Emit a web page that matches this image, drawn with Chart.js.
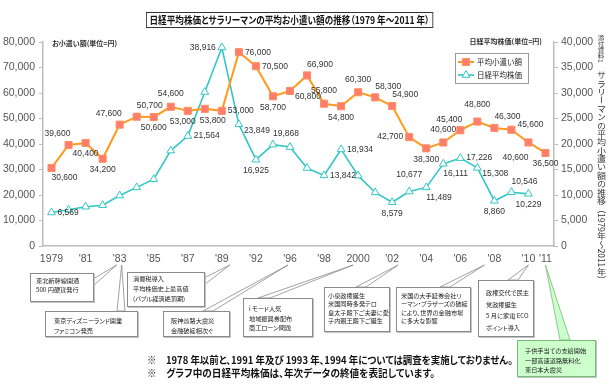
<!DOCTYPE html>
<html lang="ja">
<head>
<meta charset="utf-8">
<title>日経平均株価とサラリーマンの平均お小遣い額の推移</title>
<script src="https://cdn.jsdelivr.net/npm/chart.js@4.4.1/dist/chart.umd.min.js"></script>
<style>
html, body { margin: 0; padding: 0; background: #fff; }
#page { position: relative; width: 612px; height: 385px; overflow: hidden; font-family: "Noto Sans CJK JP", sans-serif; color: #222; }
#chart { position: absolute; left: 0; top: 0; }
.fit { position: absolute; white-space: nowrap; transform-origin: 0 0; font-feature-settings: "palt"; }
#title { left: 146px; top: 12px; height: 16px; line-height: 14px; border: 1px solid #333; box-sizing: border-box; font-size: 10px; font-weight: bold; padding: 0 3px; color: #111; }
.note { left: 147px; font-size: 10px; font-weight: bold; color: #111; line-height: 12px; }
.axis-title { position: absolute; font-size: 7px; font-weight: bold; color: #333; white-space: nowrap; line-height: 10px; font-feature-settings: "palt"; }
.box { position: absolute; box-sizing: border-box; background: #fff; border: 1px solid #8a8a8a; box-shadow: 1px 1px 0 #c4c4c4; font-size: 6.2px; color: #222; white-space: nowrap; font-feature-settings: "palt"; }
.box.green { background: #ccffcc; border-color: #79b979; }
#side { position: absolute; left: 595px; top: 35px; writing-mode: vertical-rl; font-size: 9px; line-height: 12px; color: #333; white-space: nowrap; transform-origin: 0 0; }
#side .small { font-size: 6.5px; }
</style>
</head>
<body>
<div id="page">
  <canvas id="chart" width="612" height="385"></canvas>
  <div id="title" class="fit">日経平均株価とサラリーマンの平均お小遣い額の推移（1979 年～2011 年）</div>
  <div class="axis-title" style="left:52px; top:38px;">お小遣い額(単位=円)</div>
  <div class="axis-title" style="right:70px; top:36px;">日経平均株価(単位=円)</div>
  <div id="side"><span class="small">添付資料1</span>　サラリーマンの平均小遣い額の推移（1979年～2011年）</div>
  <div id="note1" class="fit note" style="top:354px;">※　1978 年以前と、1991 年及び 1993 年、1994 年については調査を実施しておりません。</div>
  <div id="note2" class="fit note" style="top:367px;">※　グラフ中の日経平均株価は、年次データの終値を表記しています。</div>
</div>
<script>
// 調査年（1991, 1993, 1994 は調査なし）
const years = ['1979', '1980', '1981', '1982', '1983', '1984', '1985', '1986', '1987', '1988', '1989', '1990',
    '1992', '1995', '1996', '1997', '1998', '1999', '2000', '2001', '2002', '2003', '2004', '2005',
    '2006', '2007', '2008', '2009', '2010', '2011'];
const tickLabels = ['1979', '', "'81", '', "'83", '', "'85", '', "'87", '', "'89", '', "'92", '', "'96", '',
    "'98", '', '2000', '', "'02", '', "'04", '', "'06", '', "'08", '', "'10", "'11"];

// 平均小遣い額（円）
const allowance = [30600, 39600, 40400, 34200, 47600, 50700, 50600, 54600, 53000, 53800, 53000, 76000,
    70500, 58700, 60800, 66900, 55800, 54800, 60300, 58300, 54900, 42700, 38300, 40600,
    45400, 48800, 46300, 45600, 40600, 36500];
// 日経平均株価（年末終値）
const nikkei = [6569, 7100, 7700, 8000, 9900, 11500, 13100, 18700, 21564, 30200, 38916, 23849,
    16925, 19868, 19400, 15300, 13842, 18934, 13800, 10500, 8579, 10677, 11489, 16111,
    17226, 15308, 8860, 10546, 10229, null];

// ラベルの向き（null は表示なし）
const allowanceLabelPos = ['br', 'tl', 'b', 'b', 'tl', 'tr', 'b', 't', 'bL', 'bR', 'r', 'r',
    'r', 'b', 'rb', 'tr', 't', 'b', 't', 'tr', 'tr', 'l', 'b', 't',
    'tl', 'tt', 'tr', 'rt', 'bl', 'b'];
const nikkeiLabelPos = ['r', null, null, null, null, null, null, null, 'r', null, 'l', 'rb',
    'b', 'tr', null, null, 'r', 'r', null, null, 'b', 'tt', 'br', 'br',
    'r', 'rb', 'b', 'tr', 'b', null];

const placeMap = {
    t: [0, -13, 'center'], tt: [0, -17, 'center'], b: [0, 11, 'center'],
    bL: [-5, 11, 'center'], bR: [8, 12, 'center'],
    r: [6, 0, 'left'], l: [-6, 0, 'right'],
    tr: [0, -11, 'left'], tl: [2, -11, 'right'],
    br: [0, 10, 'left'], bl: [0, 15, 'right'],
    rb: [5, 6, 'left'], rt: [6, -5, 'left']
};

// 出来事の吹き出し
const notes = [
    { box: [30, 273, 64, 29], pad: [5, 1.5], lh: 9, lines: ['東北新幹線開通', '500 円硬貨発行'], tick: 4, dx: -3, base: [93, 279, 93, 286] },
    { box: [45, 311, 93, 26], pad: [8, 4.2], lh: 9.5, lines: ['東京ディズニーランド開業', 'ファミコン発売'], tick: 4, dx: 2, base: [117, 311, 125, 311] },
    { box: [127, 272, 78, 35], pad: [5, 1], lh: 10, lines: ['消費税導入', '平均株価史上最高値', '(バブル経済絶頂期)'], tick: 10, dx: 8, base: [204, 278, 204, 285] },
    { box: [163, 311, 67, 26], pad: [7, 4.2], lh: 9.5, lines: ['阪神淡路大震災', '金融破綻相次ぐ'], tick: 14, dx: -2, base: [203, 311, 213, 311] },
    { box: [243, 298, 70, 39], pad: [5, 5], lh: 9.5, lines: ['i モード人気', '地域振興券配布', '商工ローン問題'], tick: 18, dx: -5, base: [258, 298, 270, 298] },
    { box: [324, 287, 66, 45], pad: [3, 3.7], lh: 8.5, lines: ['小泉政権誕生', '米国同時多発テロ', '皇太子殿下ご夫妻に愛', '子内親王殿下ご誕生'], tick: 20, dx: 6, base: [356, 287, 366, 287] },
    { box: [396, 287, 75, 45], pad: [4, 3.7], lh: 8.5, lines: ['米国の大手証券会社リ', 'ーマン・ブラザーズの破綻', 'により、世界の金融市場', 'に多大な影響'], tick: 26, dx: -10, base: [440, 287, 450, 287] },
    { box: [478, 280, 56, 57], pad: [7, 6], lh: 11.7, lines: ['政権交代で民主', '党政権誕生', '5 月に家電 ECO', 'ポイント導入'], tick: 28, dx: 0, base: [508, 280, 518, 280] },
    { box: [517, 340, 79, 37], pad: [7, 5], lh: 9.5, lines: ['子供手当ての支給開始', '一部高速道路無料化', '東日本大震災'], tick: 29, dx: 0, base: [560, 340, 570, 340], green: true }
];

const page = document.getElementById('page');
notes.forEach(n => {
    const d = document.createElement('div');
    d.className = n.green ? 'box green' : 'box';
    d.style.left = n.box[0] + 'px';
    d.style.top = n.box[1] + 'px';
    d.style.width = n.box[2] + 'px';
    d.style.height = n.box[3] + 'px';
    d.style.padding = n.pad[1] + 'px 0 0 ' + n.pad[0] + 'px';
    d.style.lineHeight = n.lh + 'px';
    d.innerHTML = n.lines.join('<br>');
    page.appendChild(d);
});

const ORANGE = '#ff9a1a';
const CYAN = '#33c6c6';
const numFont = '"Liberation Sans Narrow", "Liberation Sans", Arial, sans-serif';

const calloutPlugin = {
    id: 'callouts',
    afterDraw(chart) {
        const ctx = chart.ctx;
        const xs = chart.scales.x;
        ctx.save();
        ctx.lineWidth = 0.8;
        notes.forEach(n => {
            const tx = xs.getPixelForValue(n.tick) + n.dx;
            const ty = 265;
            ctx.beginPath();
            ctx.moveTo(n.base[0], n.base[1]);
            ctx.lineTo(tx, ty);
            ctx.lineTo(n.base[2], n.base[3]);
            ctx.closePath();
            ctx.fillStyle = n.green ? '#ccffcc' : '#fff';
            ctx.strokeStyle = n.green ? '#79b979' : '#8a8a8a';
            ctx.fill();
            ctx.stroke();
        });
        ctx.restore();
    }
};

const valueLabels = {
    id: 'valueLabels',
    afterDatasetsDraw(chart) {
        const ctx = chart.ctx;
        ctx.save();
        ctx.font = '8.5px ' + numFont;
        ctx.fillStyle = '#333';
        ctx.textBaseline = 'middle';
        chart.data.datasets.forEach((ds, i) => {
            const meta = chart.getDatasetMeta(i);
            ds.labelPos.forEach((p, j) => {
                if (!p || ds.data[j] == null) return;
                const pt = meta.data[j];
                const [dx, dy, align] = placeMap[p];
                ctx.textAlign = align;
                ctx.fillText(ds.data[j].toLocaleString('en-US'), pt.x + dx, pt.y + dy);
            });
        });
        ctx.restore();
    }
};

const legendBox = {
    id: 'legendBox',
    afterDraw(chart) {
        const ctx = chart.ctx;
        ctx.save();
        ctx.fillStyle = '#fff';
        ctx.fillRect(455, 53, 73, 30);
        ctx.strokeStyle = '#9a9a9a';
        ctx.lineWidth = 1;
        ctx.strokeRect(455.5, 53.5, 73, 30);
        chart.data.datasets.forEach((ds, i) => {
            const y = 62 + i * 13;
            ctx.strokeStyle = ds.borderColor;
            ctx.lineWidth = ds.borderWidth;
            ctx.beginPath();
            ctx.moveTo(458, y);
            ctx.lineTo(474, y);
            ctx.stroke();
            ctx.fillStyle = ds.pointBackgroundColor;
            ctx.strokeStyle = ds.pointBorderColor;
            ctx.lineWidth = ds.pointBorderWidth;
            Chart.helpers.drawPoint(ctx, { pointStyle: ds.pointStyle, radius: ds.pointRadius, borderWidth: 1, rotation: 0 }, 466, y);
            ctx.fillStyle = '#222';
            ctx.font = '7.5px "Noto Sans CJK JP", sans-serif';
            ctx.textAlign = 'left';
            ctx.textBaseline = 'middle';
            ctx.fillText(ds.label, 477, y);
        });
        ctx.restore();
    }
};

const tickFont = { family: numFont, size: 10.5 };

new Chart(document.getElementById('chart').getContext('2d'), {
    type: 'line',
    data: {
        labels: years,
        datasets: [{
            label: '平均小遣い額',
            data: allowance,
            labelPos: allowanceLabelPos,
            yAxisID: 'y',
            borderColor: ORANGE,
            borderWidth: 2,
            pointStyle: 'rect',
            pointRadius: 5,
            pointBorderWidth: 1,
            pointBackgroundColor: '#ff7d6c',
            pointBorderColor: '#ff8f62',
            tension: 0
        }, {
            label: '日経平均株価',
            data: nikkei,
            labelPos: nikkeiLabelPos,
            yAxisID: 'y1',
            borderColor: CYAN,
            borderWidth: 1.6,
            pointStyle: 'triangle',
            pointRadius: 4.5,
            pointBorderWidth: 1,
            pointBackgroundColor: '#ffffff',
            pointBorderColor: CYAN,
            tension: 0
        }]
    },
    options: {
        responsive: false,
        animation: false,
        devicePixelRatio: 1,
        layout: { padding: { top: 42, left: 0, right: 0, bottom: 0 } },
        plugins: {
            legend: { display: false },
            tooltip: { enabled: false }
        },
        scales: {
            x: {
                offset: true,
                grid: { display: false, drawTicks: false },
                border: { color: '#bdbdbd', width: 1.5 },
                ticks: {
                    autoSkip: false,
                    maxRotation: 0,
                    padding: 7,
                    color: '#555',
                    font: tickFont,
                    callback: (v, i) => tickLabels[i]
                },
                afterFit: s => { s.height = 139; }
            },
            y: {
                position: 'left',
                min: 0,
                max: 80000,
                grid: { drawOnChartArea: false, tickLength: 4, color: '#bdbdbd' },
                border: { color: '#bdbdbd', width: 1.5 },
                ticks: {
                    stepSize: 10000,
                    padding: 4,
                    color: '#555',
                    font: tickFont,
                    callback: v => v.toLocaleString('en-US')
                },
                afterFit: s => { s.width = 43; }
            },
            y1: {
                position: 'right',
                min: 0,
                max: 40000,
                grid: { drawOnChartArea: false, tickLength: 4, color: '#bdbdbd' },
                border: { color: '#bdbdbd', width: 1.5 },
                ticks: {
                    stepSize: 5000,
                    padding: 3,
                    color: '#555',
                    font: tickFont,
                    callback: v => v.toLocaleString('en-US')
                },
                afterFit: s => { s.width = 58; }
            }
        }
    },
    plugins: [calloutPlugin, valueLabels, legendBox]
});

// 文字列の幅を元の図に合わせる
function fitWidth(id, w) {
    const el = document.getElementById(id);
    el.style.transform = 'none';
    el.style.transform = 'scaleX(' + (w / el.getBoundingClientRect().width) + ')';
}
function fitHeight(id, h) {
    const el = document.getElementById(id);
    el.style.transform = 'none';
    el.style.transform = 'scaleY(' + (h / el.getBoundingClientRect().height) + ')';
}
function fitAll() {
    fitWidth('title', 287);
    fitWidth('note1', 366);
    fitWidth('note2', 288);
    fitHeight('side', 249);
}
fitAll();
document.fonts.ready.then(fitAll);
</script>
</body>
</html>
